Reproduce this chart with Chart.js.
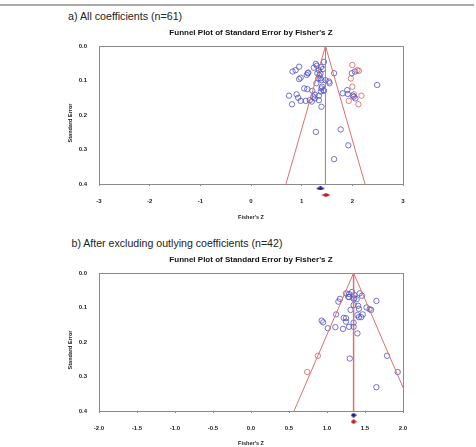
<!DOCTYPE html>
<html>
<head>
<meta charset="utf-8">
<script src="https://cdn.jsdelivr.net/npm/chart.js@4.4.1/dist/chart.umd.min.js"></script>
<style>
  body { margin: 0; background: #fff; width: 476px; height: 447px; overflow: hidden; position: relative; font-family: "Liberation Sans", Arial, sans-serif; }
  .rule { position: absolute; left: 0; top: 4px; width: 474px; height: 2px; background: #a9a9a9; }
  .head { position: absolute; font-size: 10.7px; line-height: 14px; color: #222; white-space: nowrap; }
  canvas { position: absolute; left: 0; }
</style>
</head>
<body>
<div class="rule"></div>
<div class="head" style="left:68px;top:9px">a) All coefficients (n=61)</div>
<canvas id="plotA" width="476" height="200" style="top:22px"></canvas>
<div class="head" style="left:71.5px;top:236px;font-size:10.6px">b) After excluding outlying coefficients (n=42)</div>
<canvas id="plotB" width="476" height="197" style="top:250px"></canvas>
<script>
// ---- data ----
const chartTitle = "Funnel Plot of Standard Error by Fisher's Z";
const xTitle = "Fisher's Z";
const yTitle = "Standard Error";
const seTicks = [0.0, 0.1, 0.2, 0.3, 0.4];

// a) all coefficients
const zTicksA = [-3, -2, -1, 0, 1, 2, 3];
const blueZA = [0.82, 0.88, 0.95, 0.98, 0.95, 1.10, 1.12, 1.24, 1.30, 1.34, 1.38, 1.44, 1.31, 1.37, 1.47, 1.54,
  1.64, 1.05, 1.11, 1.21, 1.39, 1.43, 1.38, 0.75, 0.90, 0.93, 1.23, 1.34, 0.81, 0.98, 1.08, 1.16, 1.26, 1.34,
  1.39, 1.28, 1.42, 1.35, 1.29, 1.55, 1.40, 1.13, 1.81, 1.90, 1.91, 2.03, 2.06, 1.99, 2.05, 2.49, 1.28, 1.77,
  1.92, 1.64, 1.33, 1.39, 1.37, 1.44, 1.20, 2.01, 1.26];
const blueSEA = [0.074, 0.070, 0.060, 0.092, 0.096, 0.084, 0.079, 0.063, 0.057, 0.070, 0.061, 0.046, 0.079, 0.094,
  0.099, 0.103, 0.079, 0.123, 0.125, 0.130, 0.123, 0.128, 0.132, 0.144, 0.140, 0.150, 0.147, 0.144, 0.169, 0.159,
  0.159, 0.157, 0.152, 0.157, 0.176, 0.052, 0.067, 0.085, 0.108, 0.108, 0.118, 0.077, 0.137, 0.128, 0.139, 0.147,
  0.152, 0.079, 0.074, 0.113, 0.249, 0.242, 0.288, 0.328, 0.094, 0.099, 0.080, 0.130, 0.161, 0.144, 0.141];
const redZA = [2.00, 2.10, 2.13, 1.97, 2.00, 2.18, 1.93, 2.12, 2.03];
const redSEA = [0.055, 0.070, 0.072, 0.094, 0.118, 0.144, 0.159, 0.169, 0.140];
const funnelZA = [0.69, 1.47, 2.25];
const funnelSEA = [0.4, 0.0, 0.4];
const centreA = 1.47;
const pooledZA = [1.37, 1.48];       // blue (observed), red (adjusted)
const pooledSEA = [0.413, 0.432];

// b) after excluding outliers
const zTicksB = [-2.0, -1.5, -1.0, -0.5, 0.0, 0.5, 1.0, 1.5, 2.0];
const blueZB = [1.25, 1.29, 1.33, 1.36, 1.43, 1.46, 1.17, 1.15, 1.29, 1.35, 1.39, 1.65, 1.35, 1.41, 1.42, 1.31,
  1.52, 1.58, 1.56, 1.12, 1.40, 1.42, 1.47, 1.45, 0.93, 0.95, 1.22, 1.25, 1.25, 1.35, 1.01, 1.11, 1.21, 1.29,
  1.35, 1.40, 1.30, 1.79, 1.93, 1.65, 1.28, 1.36];
const blueSEB = [0.059, 0.061, 0.055, 0.064, 0.059, 0.066, 0.075, 0.083, 0.070, 0.075, 0.076, 0.081, 0.093, 0.095,
  0.104, 0.107, 0.100, 0.107, 0.105, 0.120, 0.122, 0.128, 0.120, 0.128, 0.138, 0.143, 0.130, 0.131, 0.141, 0.144,
  0.160, 0.157, 0.162, 0.156, 0.156, 0.175, 0.248, 0.240, 0.287, 0.331, 0.069, 0.073];
const redZB = [0.88, 0.74];
const redSEB = [0.240, 0.287];
const funnelZB = [0.566, 1.35, 2.134];
const funnelSEB = [0.4, 0.0, 0.4];
const centreB = 1.35;
const pooledZB = [1.35, 1.35];
const pooledSEB = [0.412, 0.431];

// ---- drawing ----
const FONT = '"Liberation Sans", Arial, sans-serif';
const BLUE = '#5252c2';
const RED = '#d66060';
const LINE_RED = '#de7070';
const GREY = '#8a8a8a';

function pts(xs, ys) {
  return xs.map((x, i) => ({ x: x, y: ys[i] }));
}

function diamond(w, h, color) {
  const c = document.createElement('canvas');
  c.width = w; c.height = h;
  const g = c.getContext('2d');
  g.fillStyle = color;
  g.beginPath();
  g.moveTo(w / 2, 0); g.lineTo(w, h / 2); g.lineTo(w / 2, h); g.lineTo(0, h / 2);
  g.closePath();
  g.fill();
  return c;
}

// frame round the plot area + rotated y title
const framePlugin = {
  id: 'frame',
  beforeDatasetsDraw(chart) {
    const a = chart.chartArea, ctx = chart.ctx;
    ctx.save();
    ctx.strokeStyle = GREY;
    ctx.lineWidth = 1;
    ctx.strokeRect(Math.round(a.left) + 0.5, Math.round(a.top) + 0.5, Math.round(a.right - a.left), Math.round(a.bottom - a.top));
    ctx.restore();
  },
  afterDraw(chart) {
    const a = chart.chartArea, ctx = chart.ctx;
    ctx.save();
    ctx.translate(70, (a.top + a.bottom) / 2 + 8);
    ctx.rotate(-Math.PI / 2);
    ctx.font = 'bold 5.5px ' + FONT;
    ctx.fillStyle = '#222';
    ctx.textAlign = 'center';
    ctx.textBaseline = 'middle';
    ctx.fillText(yTitle, 0, 0);
    ctx.restore();
  }
};

function funnelChart(id, o) {
  return new Chart(document.getElementById(id), {
    type: 'scatter',
    data: {
      datasets: [
        { type: 'line', data: pts(o.funnelZ, o.funnelSE), borderColor: LINE_RED, borderWidth: 1, pointRadius: 0, tension: 0, fill: false },
        { type: 'line', data: pts([o.centre, o.centre], [0, 0.4]), borderColor: LINE_RED, borderWidth: o.midWidth, pointRadius: 0, fill: false },
        { data: pts(o.blueZ, o.blueSE), pointStyle: 'circle', pointRadius: 2.7, borderWidth: 0.8, borderColor: BLUE, backgroundColor: 'rgba(0,0,0,0)' },
        { data: pts(o.redZ, o.redSE), pointStyle: 'circle', pointRadius: 2.7, borderWidth: 0.8, borderColor: RED, backgroundColor: 'rgba(0,0,0,0)' },
        // the pooled estimates sit below the axis, so give them a big radius to keep them drawn
        { data: [{ x: o.pooledZ[0], y: o.pooledSE[0] }], pointStyle: diamond(o.dw, o.dh, '#1c1c8c'), pointRadius: 20, clip: false },
        { data: [{ x: o.pooledZ[1], y: o.pooledSE[1] }], pointStyle: diamond(o.dw, o.dh, '#c41c1c'), pointRadius: 20, clip: false }
      ]
    },
    options: {
      responsive: false,
      animation: false,
      events: [],
      layout: { padding: { left: 0, right: 73, top: 0, bottom: 0 } },
      plugins: {
        legend: { display: false },
        tooltip: { enabled: false },
        title: {
          display: true, text: chartTitle, fullSize: false, color: '#111',
          font: { family: FONT, size: 8, weight: 'bold' },
          padding: { top: o.titleTop, bottom: o.titleBottom }
        }
      },
      scales: {
        x: {
          type: 'linear', min: o.zTicks[0], max: o.zTicks[o.zTicks.length - 1],
          afterFit: s => { s.height = o.xHeight; },
          afterBuildTicks: s => { s.ticks = o.zTicks.map(v => ({ value: v })); },
          grid: { drawOnChartArea: false, drawTicks: true, tickLength: 2, color: GREY },
          border: { color: GREY },
          ticks: {
            autoSkip: false, maxRotation: 0, padding: 11.4, color: '#222',
            font: { family: FONT, size: 6, weight: 'bold' },
            callback: v => o.fmt(v)
          },
          title: {
            display: true, text: xTitle, color: '#222',
            font: { family: FONT, size: 5.5, weight: 'bold' },
            padding: { top: 0, bottom: o.xTitlePad }
          }
        },
        y: {
          type: 'linear', reverse: true, min: 0, max: 0.4,
          afterFit: s => { s.width = 99; },
          afterBuildTicks: s => { s.ticks = seTicks.map(v => ({ value: v })); },
          grid: { display: false },
          border: { color: GREY },
          ticks: {
            padding: 4, color: '#222',
            font: { family: FONT, size: 6, weight: 'bold' },
            callback: v => Number(v).toFixed(1)
          }
        }
      }
    },
    plugins: [framePlugin]
  });
}

funnelChart('plotA', {
  zTicks: zTicksA, fmt: v => String(v),
  blueZ: blueZA, blueSE: blueSEA, redZ: redZA, redSE: redSEA,
  funnelZ: funnelZA, funnelSE: funnelSEA, centre: centreA, midWidth: 1,
  pooledZ: pooledZA, pooledSE: pooledSEA, dw: 9, dh: 4,
  titleTop: 6.2, titleBottom: 8.2, xHeight: 38, xTitlePad: 1.7
});

funnelChart('plotB', {
  zTicks: zTicksB, fmt: v => Number(v).toFixed(1),
  blueZ: blueZB, blueSE: blueSEB, redZ: redZB, redSE: redSEB,
  funnelZ: funnelZB, funnelSE: funnelSEB, centre: centreB, midWidth: 1.5,
  pooledZ: pooledZB, pooledSE: pooledSEB, dw: 6, dh: 5,
  titleTop: 5.2, titleBottom: 8.2, xHeight: 36, xTitlePad: 0
});
</script>
</body>
</html>
